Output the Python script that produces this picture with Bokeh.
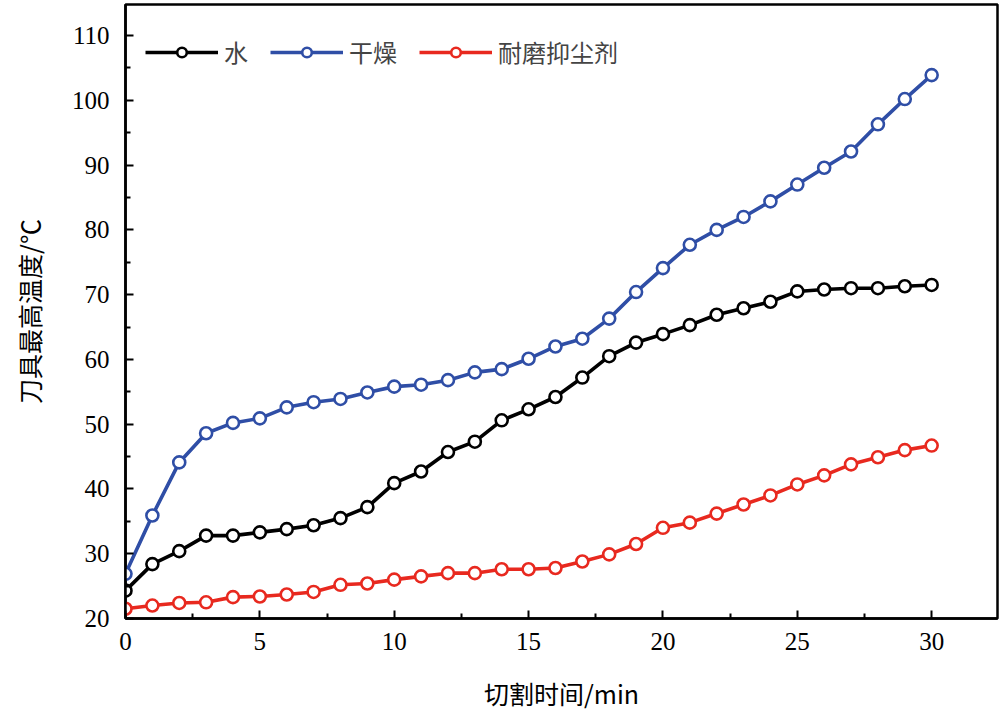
from bokeh.plotting import figure
from bokeh.models import Range1d, Legend, LegendItem, FixedTicker
from bokeh.embed import file_html
from bokeh.resources import INLINE

time_min = list(range(0, 31))
water = [24.3, 28.4, 30.4, 32.8, 32.8, 33.3, 33.8, 34.4, 35.5, 37.2, 40.9,
         42.7, 45.7, 47.3, 50.6, 52.3, 54.2, 57.2, 60.5, 62.6, 63.9,
         65.3, 66.9, 67.9, 68.9, 70.5, 70.8, 71.0, 71.0, 71.3, 71.5]
dry = [26.9, 35.9, 44.1, 48.6, 50.2, 50.9, 52.6, 53.4, 53.9, 54.9, 55.8,
       56.1, 56.8, 58.0, 58.5, 60.1, 62.0, 63.2, 66.3, 70.4, 74.1,
       77.7, 80.0, 82.0, 84.4, 87.0, 89.6, 92.1, 96.3, 100.2, 103.9]
agent = [21.5, 22.0, 22.4, 22.5, 23.3, 23.4, 23.7, 24.1, 25.2, 25.4, 26.0,
         26.5, 27.0, 27.0, 27.6, 27.6, 27.8, 28.8, 29.9, 31.5, 34.0,
         34.8, 36.2, 37.6, 39.0, 40.7, 42.1, 43.8, 44.9, 46.0, 46.7]
labels = ["水", "干燥", "耐磨抑尘剂"]
colors = ["#000000", "#2f4ea6", "#e8291f"]
x_ticks = [0, 5, 10, 15, 20, 25, 30]
y_ticks = [20, 30, 40, 50, 60, 70, 80, 90, 100, 110]
x_title = "切割时间/min"
y_title = "刀具最高温度/℃"

p = figure(width=1000, height=720, output_backend="svg", toolbar_location=None,
           x_range=Range1d(0, 32.45), y_range=Range1d(20, 114.8),
           min_border_left=125, min_border_right=3, min_border_top=4,
           min_border_bottom=102)
p.background_fill_color = "white"
p.border_fill_color = "white"
p.grid.visible = False
p.outline_line_color = "black"
p.outline_line_width = 2.5

items = []
for name, ys, c in zip(labels, [water, dry, agent], colors):
    lr = p.line(time_min, ys, line_color=c, line_width=3.6)
    sr = p.scatter(time_min, ys, marker="circle", size=12, fill_color="white",
                   line_color=c, line_width=2.6)
    items.append(LegendItem(label=name, renderers=[lr, sr]))

legend = Legend(items=items, orientation="horizontal", location=(20, 549),
                border_line_color=None, background_fill_alpha=0,
                label_text_font="Noto Sans CJK SC", label_text_font_size="24px",
                glyph_width=73, glyph_height=24, label_standoff=6, spacing=22,
                padding=10, margin=0, label_height=24)
p.add_layout(legend)

for ax in (p.xaxis[0], p.yaxis[0]):
    ax.axis_line_color = "black"
    ax.axis_line_width = 2.5
    ax.major_tick_in = 8
    ax.major_tick_out = 0
    ax.minor_tick_in = 5
    ax.minor_tick_out = 0
    ax.major_tick_line_width = 2
    ax.minor_tick_line_width = 2
    ax.major_label_text_font = "Liberation Serif"
    ax.major_label_text_font_size = "25px"
    ax.major_label_text_color = "black"
    ax.axis_label_text_font = "Noto Sans CJK SC"
    ax.axis_label_text_font_size = "25px"
    ax.axis_label_text_font_style = "normal"
    ax.axis_label_text_color = "black"

p.xaxis.ticker = FixedTicker(ticks=x_ticks, minor_ticks=[2.5 + 5 * i for i in range(7)])
p.yaxis.ticker = FixedTicker(ticks=y_ticks, minor_ticks=[25 + 10 * i for i in range(9)])
p.xaxis.major_label_standoff = 14
p.yaxis.major_label_standoff = 16
p.xaxis.axis_label = x_title
p.yaxis.axis_label = y_title
p.xaxis.axis_label_standoff = 22
p.yaxis.axis_label_standoff = 22

open("out.html", "w").write(file_html(p, INLINE))
